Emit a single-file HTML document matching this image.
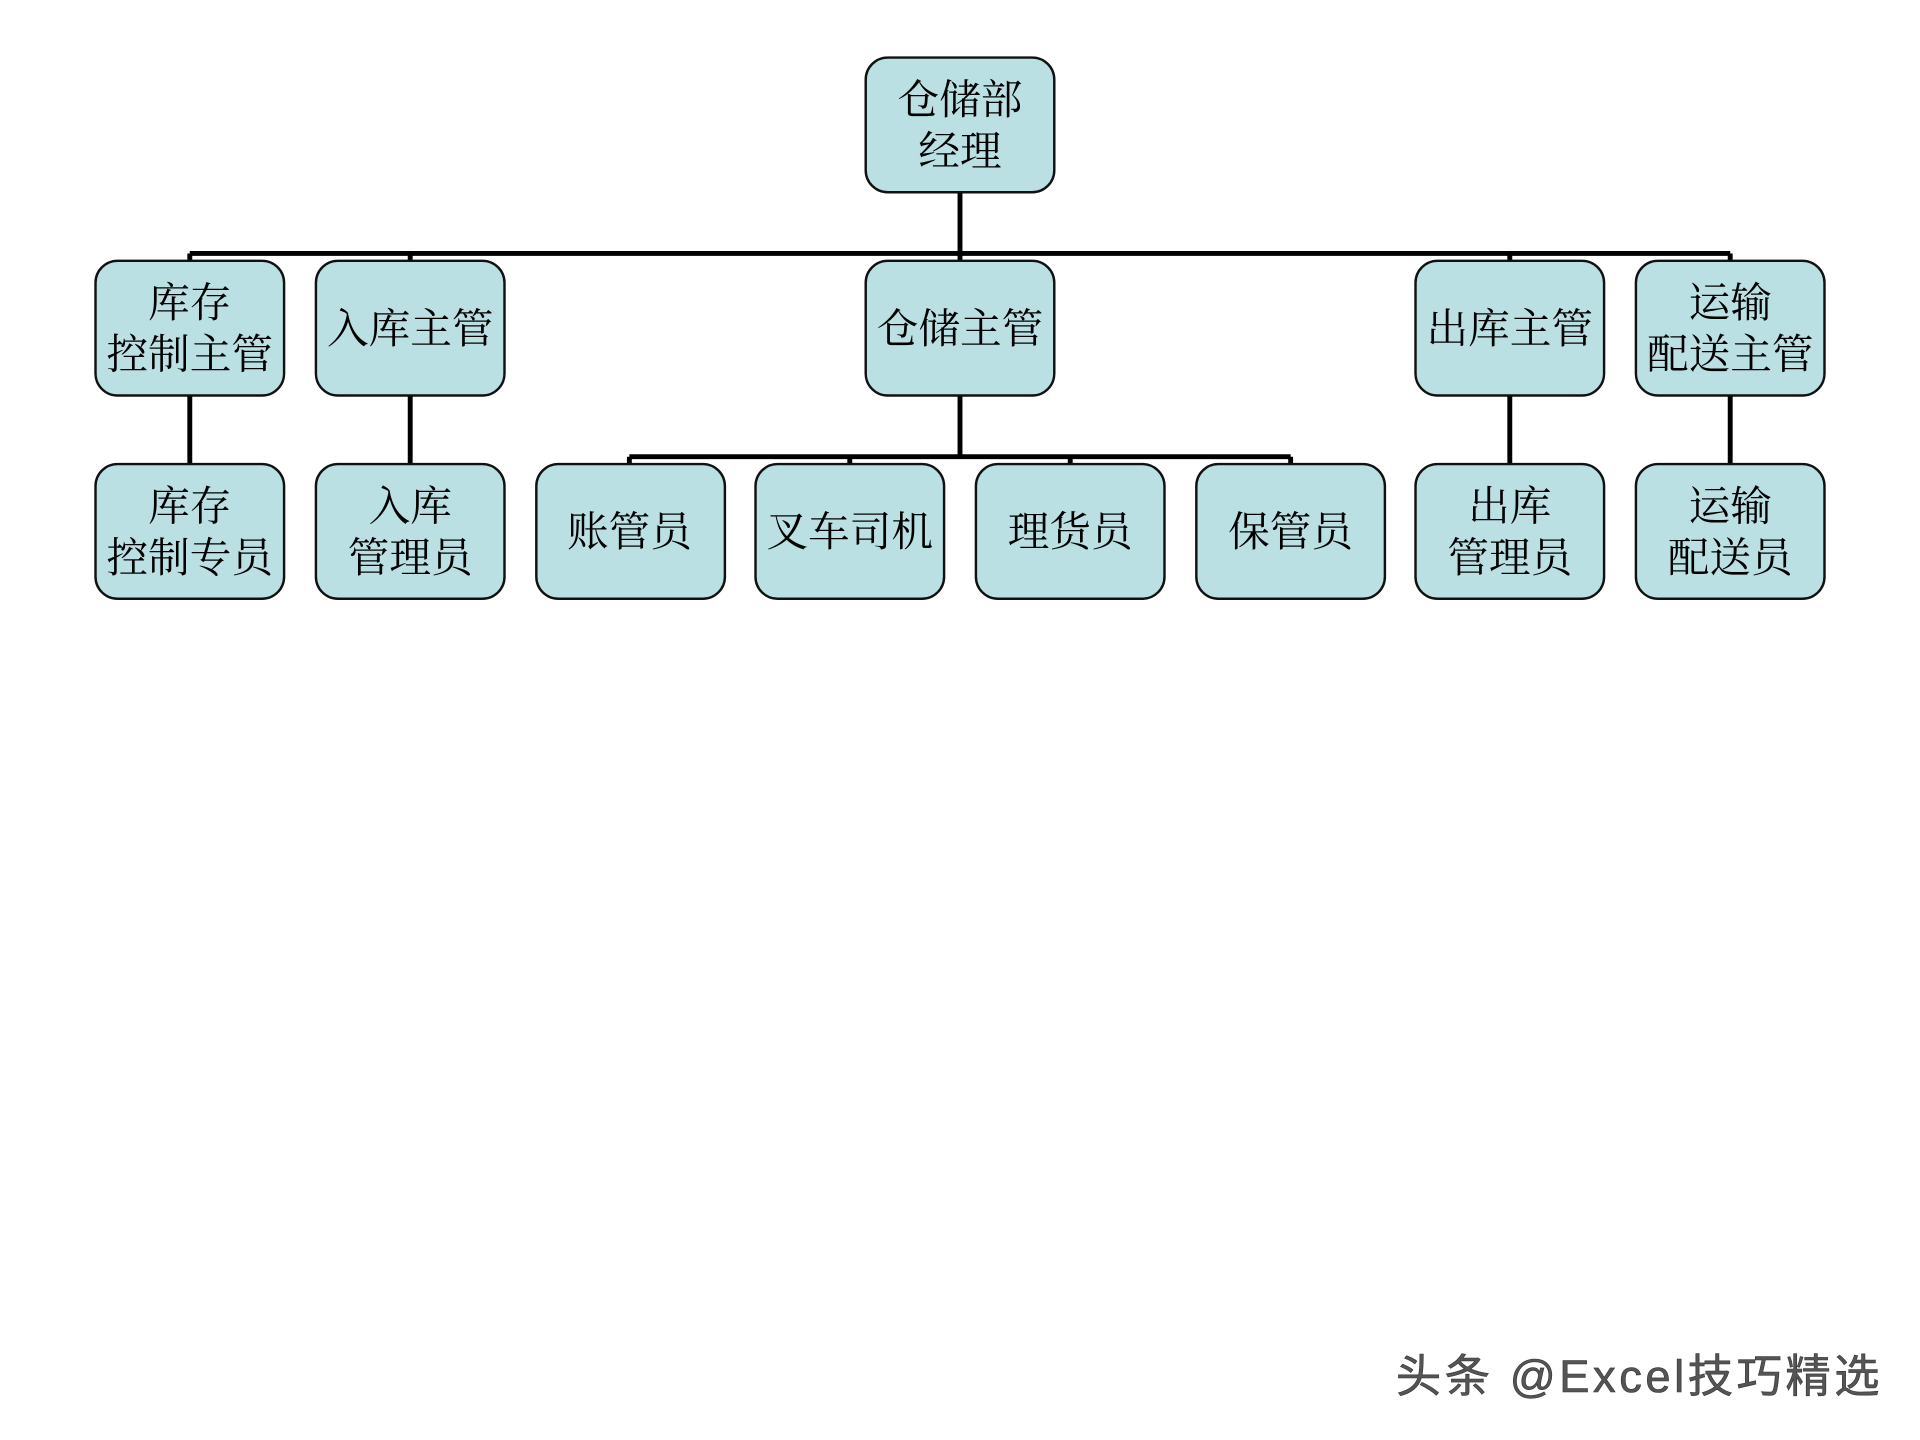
<!DOCTYPE html>
<html><head><meta charset="utf-8"><style>html,body{margin:0;padding:0;background:#fff;width:1920px;height:1440px;overflow:hidden}svg{display:block}</style></head>
<body>
<svg width="1920" height="1440" viewBox="0 0 1568 1176" xmlns="http://www.w3.org/2000/svg" font-family="'Liberation Serif','Noto Serif CJK SC','Noto Sans CJK SC',serif" font-size="34">
<g stroke="#000" stroke-width="4" fill="none">
<path d="M784 157V207M155 207H1413M155 207V213M335 207V213M784 207V213M1233 207V213M1413 207V213"/>
<path d="M155 323V379M335 323V379M1233 323V379M1413 323V379M784 323V373M514 373H1054M514 373V379M694 373V379M874 373V379M1054 373V379"/>
</g>
<g fill="#bbe0e3" stroke="#111" stroke-width="2">
<rect x="707" y="47" width="154" height="110" rx="18"/>
<rect x="78" y="213" width="154" height="110" rx="18"/>
<rect x="258" y="213" width="154" height="110" rx="18"/>
<rect x="707" y="213" width="154" height="110" rx="18"/>
<rect x="1156" y="213" width="154" height="110" rx="18"/>
<rect x="1336" y="213" width="154" height="110" rx="18"/>
<rect x="78" y="379" width="154" height="110" rx="18"/>
<rect x="258" y="379" width="154" height="110" rx="18"/>
<rect x="438" y="379" width="154" height="110" rx="18"/>
<rect x="617" y="379" width="154" height="110" rx="18"/>
<rect x="797" y="379" width="154" height="110" rx="18"/>
<rect x="977" y="379" width="154" height="110" rx="18"/>
<rect x="1156" y="379" width="154" height="110" rx="18"/>
<rect x="1336" y="379" width="154" height="110" rx="18"/>
</g>
<g fill="#000" text-anchor="middle">
<text x="784" y="93">仓储部</text><text x="784" y="135">经理</text>
<text x="155" y="259">库存</text><text x="155" y="301">控制主管</text>
<text x="335" y="280">入库主管</text>
<text x="784" y="280">仓储主管</text>
<text x="1233" y="280">出库主管</text>
<text x="1413" y="259">运输</text><text x="1413" y="301">配送主管</text>
<text x="155" y="425">库存</text><text x="155" y="467">控制专员</text>
<text x="335" y="425">入库</text><text x="335" y="467">管理员</text>
<text x="514" y="446">账管员</text>
<text x="694" y="446">叉车司机</text>
<text x="874" y="446">理货员</text>
<text x="1054" y="446">保管员</text>
<text x="1233" y="425">出库</text><text x="1233" y="467">管理员</text>
<text x="1413" y="425">运输</text><text x="1413" y="467">配送员</text>
</g>
<text x="1140" y="1137" font-family="'Liberation Sans','Noto Sans CJK SC',sans-serif" font-size="37" fill="#555" stroke="#333" stroke-width="0.5" textLength="395">头条 @Excel技巧精选</text>
</svg>
</body></html>
